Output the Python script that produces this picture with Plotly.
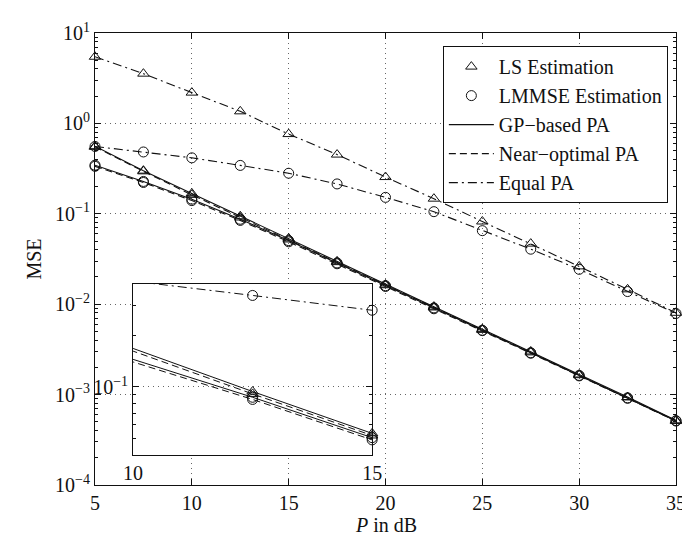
import plotly.graph_objects as go

# ---- data ----
P_dB = [5, 7.5, 10, 12.5, 15, 17.5, 20, 22.5, 25, 27.5, 30, 32.5, 35]

ls_gp = [0.56, 0.30, 0.168, 0.094, 0.0535, 0.0298, 0.0165, 0.0094, 0.0053, 0.0030, 0.00167, 0.00094, 0.00052]
ls_near = [0.55, 0.295, 0.162, 0.091, 0.052, 0.0292, 0.0162, 0.0092, 0.0052, 0.00293, 0.00164, 0.00093, 0.00051]
ls_equal = [5.46, 3.55, 2.19, 1.36, 0.762, 0.452, 0.255, 0.147, 0.0822, 0.0468, 0.0262, 0.0146, 0.00803]

lmmse_gp = [0.345, 0.228, 0.145, 0.087, 0.0505, 0.0286, 0.0160, 0.0091, 0.00515, 0.0029, 0.00163, 0.00092, 0.000515]
lmmse_near = [0.335, 0.222, 0.140, 0.0845, 0.049, 0.0280, 0.0157, 0.0089, 0.0051, 0.00287, 0.00161, 0.00091, 0.00051]
lmmse_equal = [0.556, 0.483, 0.416, 0.343, 0.281, 0.214, 0.152, 0.1056, 0.0651, 0.0406, 0.0243, 0.0138, 0.0079]

y_tickvals = [1e-4, 1e-3, 1e-2, 1e-1, 1, 10]
y_ticktext = ["10<sup>−4</sup>", "10<sup>−3</sup>", "10<sup>−2</sup>",
              "10<sup>−1</sup>", "10<sup>0</sup>", "10<sup>1</sup>"]
x_tickvals = [5, 10, 15, 20, 25, 30, 35]
inset_x_ticks = [10, 15]

legend_names = ["LS Estimation", "LMMSE Estimation", "GP−based PA", "Near−optimal PA", "Equal PA"]
x_title = "<i>P</i> in dB"
y_title = "MSE"

# ---- styles ----
INK = "#111111"
GRID = "#666666"
FONT = "Liberation Serif, 'Times New Roman', Times, serif"
FS = 20
DASH = {"gp": "solid", "near": "7px,4px", "equal": "9px,4px,2px,4px"}

series = [
    (ls_gp, "triangle-up-open", "gp"),
    (ls_near, "triangle-up-open", "near"),
    (ls_equal, "triangle-up-open", "equal"),
    (lmmse_gp, "circle-open", "gp"),
    (lmmse_near, "circle-open", "near"),
    (lmmse_equal, "circle-open", "equal"),
]

fig = go.Figure()

# inset white background (drawn in inset subplot layer, above main traces)
fig.add_shape(type="rect", xref="x2 domain", yref="y2 domain", x0=0, x1=1, y0=0, y1=1,
              fillcolor="white", line=dict(width=0), layer="below")

for ys, sym, kind in series:
    fig.add_trace(go.Scatter(
        x=P_dB, y=ys, mode="lines+markers", showlegend=False,
        line=dict(color=INK, width=1.1, dash=DASH[kind]),
        marker=dict(symbol=sym, size=10, color=INK, line=dict(width=1, color=INK)),
        cliponaxis=False, xaxis="x", yaxis="y"))

# inset
for ys, sym, kind in series:
    fig.add_trace(go.Scatter(
        x=P_dB, y=ys, mode="lines", showlegend=False,
        line=dict(color=INK, width=1, dash=DASH[kind]),
        xaxis="x2", yaxis="y2"))
    xs_in = [x for x, y in zip(P_dB, ys) if 10 < x <= 15 and 0.04 <= y <= 0.4]
    ys_in = [y for x, y in zip(P_dB, ys) if 10 < x <= 15 and 0.04 <= y <= 0.4]
    fig.add_trace(go.Scatter(
        x=xs_in, y=ys_in, mode="markers", showlegend=False,
        marker=dict(symbol=sym, size=10, color=INK, line=dict(width=1, color=INK)),
        cliponaxis=False, xaxis="x2", yaxis="y2"))

# legend entries
fig.add_trace(go.Scatter(x=[None], y=[None], mode="markers", name=legend_names[0],
                         marker=dict(symbol="triangle-up-open", size=10, color=INK, line=dict(width=1, color=INK))))
fig.add_trace(go.Scatter(x=[None], y=[None], mode="markers", name=legend_names[1],
                         marker=dict(symbol="circle-open", size=10, color=INK, line=dict(width=1, color=INK))))
for name, kind in zip(legend_names[2:], ["gp", "near", "equal"]):
    fig.add_trace(go.Scatter(x=[None], y=[None], mode="lines", name=name,
                             line=dict(color=INK, width=1.1, dash=DASH[kind])))

minor_main = [m * 10 ** e for e in range(-4, 1) for m in range(2, 10)]
minor_inset = [0.05, 0.06, 0.07, 0.08, 0.09, 0.2, 0.3]

axis_common = dict(showline=True, linecolor=INK, linewidth=1, mirror="ticks",
                   ticks="inside", tickcolor=INK, tickwidth=1,
                   tickfont=dict(family=FONT, size=FS, color=INK), zeroline=False)

fig.update_layout(
    width=690, height=535,
    margin=dict(l=87, r=19, t=21, b=58),
    paper_bgcolor="white", plot_bgcolor="white",
    font=dict(family=FONT, size=FS, color=INK),
    xaxis=dict(range=[5, 35], tickvals=x_tickvals, ticklen=6,
               showgrid=True, gridcolor=GRID, griddash="1px,4px", gridwidth=1,
               **axis_common),
    yaxis=dict(type="log", range=[-4, 1], tickvals=y_tickvals, ticktext=y_ticktext, ticklen=6,
               showgrid=True, gridcolor=GRID, griddash="1px,4px", gridwidth=1,
               minor=dict(tickmode="array", tickvals=minor_main, ticks="inside", ticklen=3,
                          tickcolor=INK, showgrid=False),
               title=dict(text=y_title, font=dict(family=FONT, size=FS), standoff=8),
               **axis_common),
    xaxis2=dict(domain=[0.0655, 0.477], anchor="y2", range=[10, 15], tickvals=inset_x_ticks,
                ticklen=0, showgrid=False, **axis_common),
    yaxis2=dict(domain=[0.0665, 0.4446], anchor="x2", type="log",
                range=[-1.39794, -0.39794], tickvals=[0.1], ticktext=["10<sup>−1</sup>"],
                ticklen=6, showgrid=True, gridcolor=GRID, griddash="1px,4px", gridwidth=1,
                minor=dict(tickmode="array", tickvals=minor_inset, ticks="inside", ticklen=3,
                           tickcolor=INK, showgrid=False),
                **axis_common),
    legend=dict(x=0.986, y=0.971, xanchor="right", yanchor="top",
                bgcolor="white", bordercolor=INK, borderwidth=1,
                font=dict(family=FONT, size=FS, color=INK), tracegroupgap=0,
                itemwidth=45),
    showlegend=True,
    annotations=[dict(text=x_title, xref="paper", yref="paper", x=0.5, y=0,
                      xanchor="center", yanchor="top", yshift=-27, showarrow=False,
                      font=dict(family=FONT, size=FS, color=INK))],
)

fig.write_html("out.html")
